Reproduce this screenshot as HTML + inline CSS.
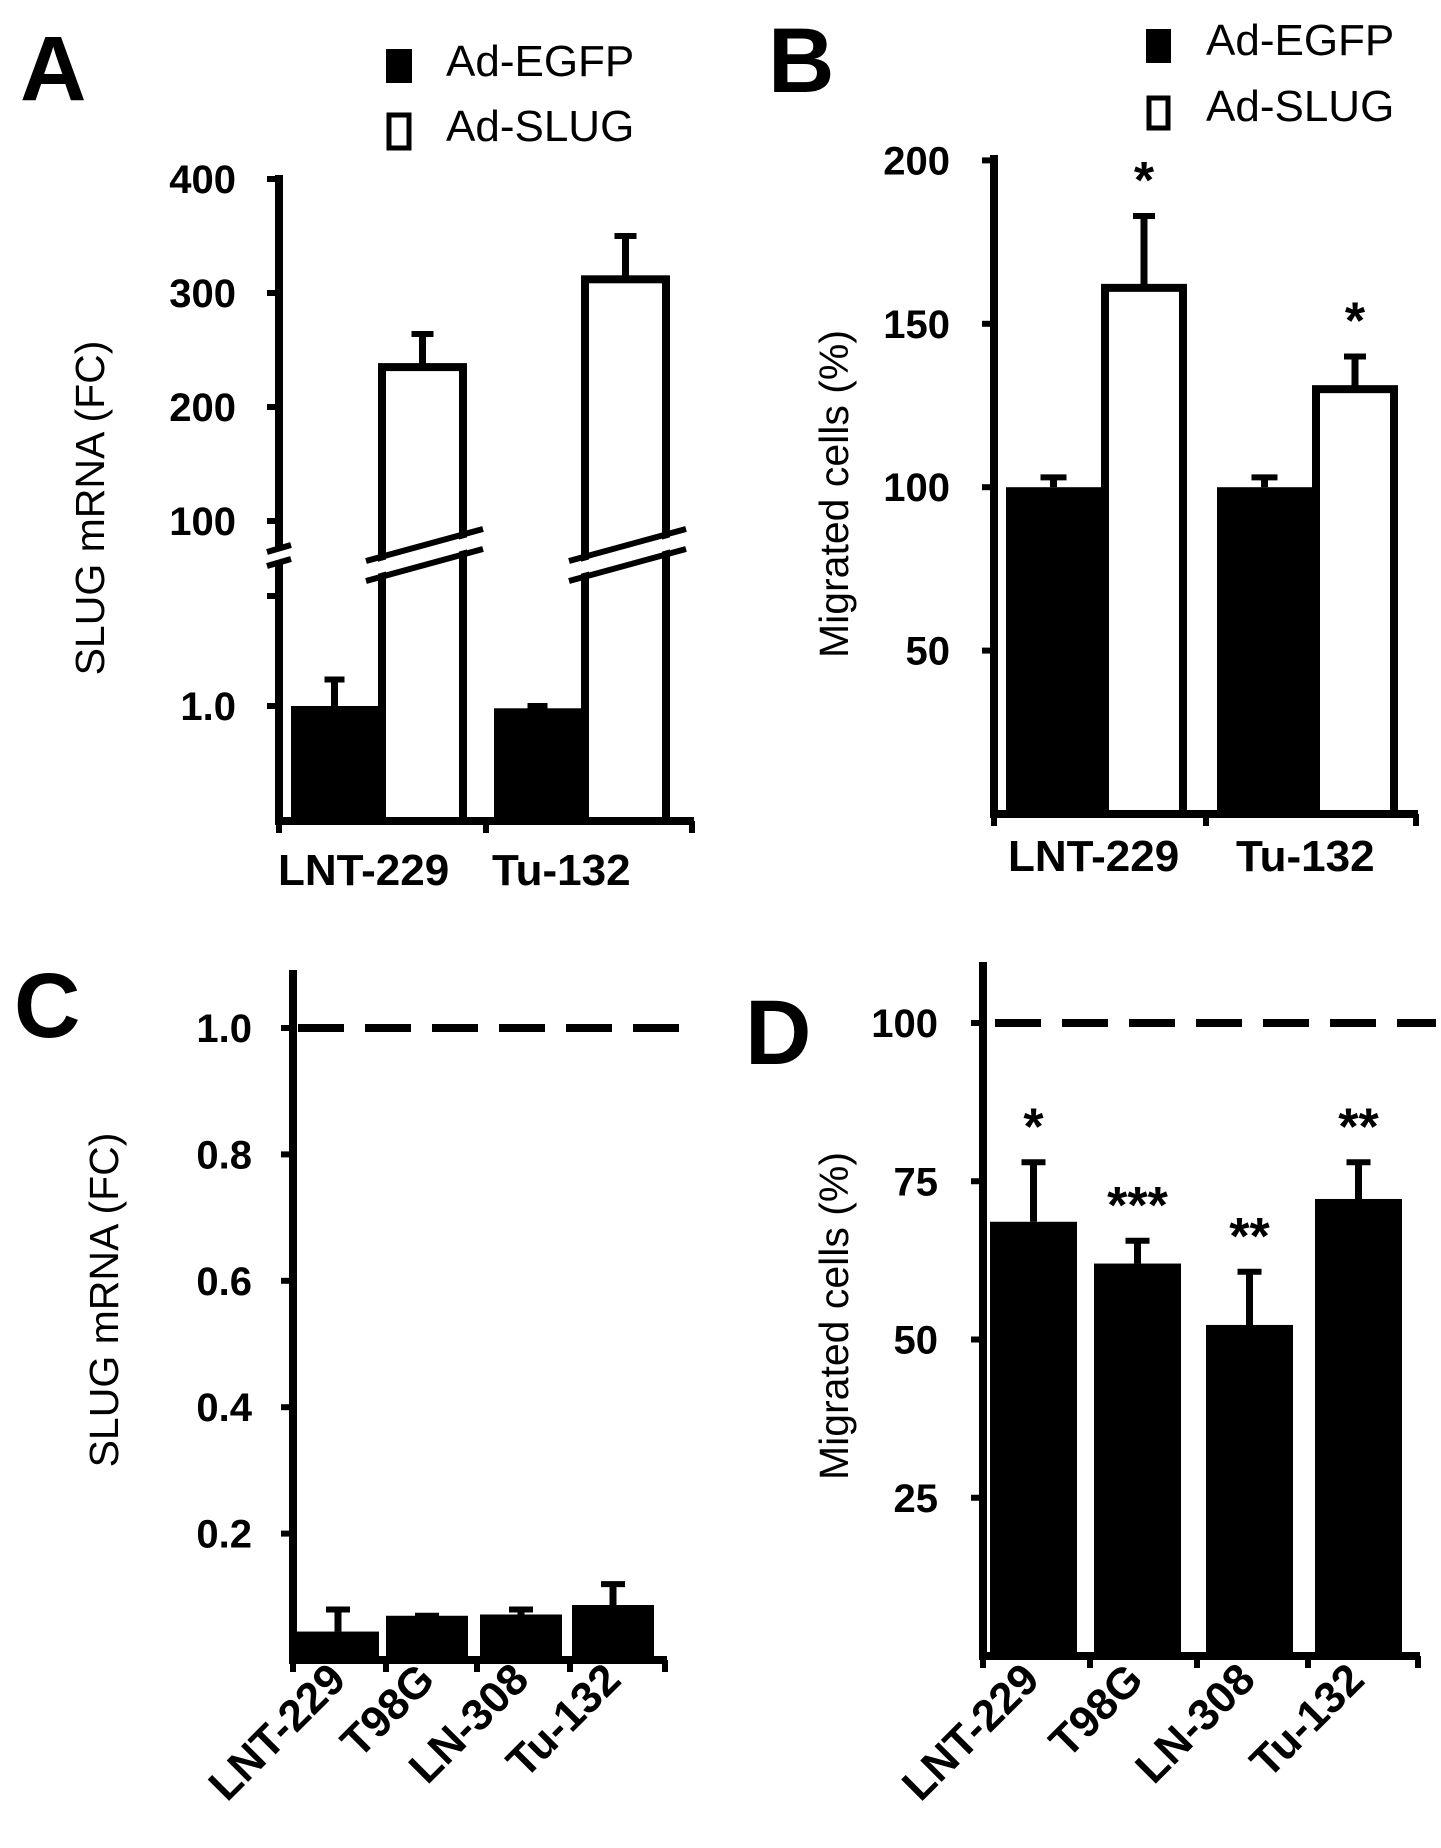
<!DOCTYPE html>
<html><head><meta charset="utf-8"><style>
html,body{margin:0;padding:0;background:#fff;}
svg{display:block;font-family:"Liberation Sans",Arial,sans-serif;}
.tk{font-weight:bold;font-size:40px;}
.xl{font-weight:bold;font-size:44px;}
.tt{font-size:41px;}
.lg{font-size:44px;}
.pl{font-weight:bold;font-size:92px;}
.st{font-weight:bold;font-size:52px;}
</style></head><body>
<svg id="fig" width="1441" height="1848" viewBox="0 0 1441 1848" xmlns="http://www.w3.org/2000/svg"></svg>
<script>
// Panel A data
const aCategories = ["LNT-229", "Tu-132"];
const aEgfp = [1.0, 0.98];
const aEgfpErr = [1.23, 1.0];
const aSlug = [235, 312];
const aSlugErr = [264, 350];
const aTicksUpper = [100, 200, 300, 400];
const aTicksLower = [1.0];
// Panel B data
const bCategories = ["LNT-229", "Tu-132"];
const bEgfp = [100, 100];
const bEgfpErr = [103, 103];
const bSlug = [161, 130];
const bSlugErr = [183, 140];
const bStars = ["*", "*"];
const bTicks = [50, 100, 150, 200];
// Panel C data
const cCategories = ["LNT-229", "T98G", "LN-308", "Tu-132"];
const cValues = [0.045, 0.07, 0.072, 0.087];
const cErr = [0.08, 0.07, 0.08, 0.12];
const cTicks = [0.2, 0.4, 0.6, 0.8, 1.0];
const cRef = 1.0;
// Panel D data
const dCategories = ["LNT-229", "T98G", "LN-308", "Tu-132"];
const dValues = [68.6, 62, 52.3, 72.2];
const dErr = [78, 65.6, 60.7, 78];
const dStars = ["*", "***", "**", "**"];
const dTicks = [25, 50, 75, 100];
const dRef = 100;

const svg = document.getElementById('fig');
const NS = 'http://www.w3.org/2000/svg';
function mk(tag, attrs, parent){const e=document.createElementNS(NS,tag);for(const k in attrs)e.setAttribute(k,attrs[k]);(parent||svg).appendChild(e);return e;}
function txt(s, attrs, parent){const e=mk('text',attrs,parent);e.textContent=s;return e;}
function line(x1,y1,x2,y2,w,parent){return mk('line',{x1,y1,x2,y2,stroke:'#000','stroke-width':w},parent);}

// ---------- Panel A ----------
(function(){
  const g=mk('g',{});
  
  
  const ax=279, bottom=821, right=694;
  const yUp=v=>521-(v-100)*1.14;
  const yLo=v=>bottom-v*115;
  const yA=v=>v>=50?yUp(v):yLo(v);
  const l=txt('A',{x:20,y:100,class:'pl'},g);
  
  
  const lg=mk('g',{},g);
  
  
  mk('rect',{x:386,y:49,width:26,height:34,fill:'#000'},lg);
  txt('Ad-EGFP',{x:446,y:76,class:'lg'},lg);
  mk('rect',{x:389,y:115,width:20,height:33,fill:'#fff',stroke:'#000','stroke-width':5},lg);
  txt('Ad-SLUG',{x:446,y:141,class:'lg'},lg);
  const t=txt('SLUG mRNA (FC)',{x:0,y:0,class:'tt','text-anchor':'middle',transform:'translate(104,508) rotate(-90)'},g);
  
  
  const bw=87, ww=89, gx=[291,494];
  aCategories.forEach((c,i)=>{
    const x0=gx[i];
    const yb=yA(aEgfp[i]);
    const b=mk('rect',{x:x0,y:yb,width:bw,height:bottom-yb,fill:'#000'},g);
    
    
    const ye=yA(aEgfpErr[i]);
    line(x0+bw/2,yb,x0+bw/2,ye,7,g);line(x0+bw/2-10,ye,x0+bw/2+10,ye,6,g);
    const xs=x0+bw+4, ys=yA(aSlug[i]);
    const w=mk('rect',{x:xs,y:ys,width:ww-8,height:bottom-ys,fill:'#fff',stroke:'#000','stroke-width':8},g);
    
    
    const yse=yA(aSlugErr[i]);
    const cx=xs+(ww-8)/2;
    line(cx,ys,cx,yse,7,g);line(cx-11,yse,cx+11,yse,6,g);
    const bx1=xs-16,bx2=xs+ww+12;
    mk('polygon',{points:`${bx1},${565} ${bx2},${533} ${bx2},${545} ${bx1},${577}`,fill:'#fff'},g);
    line(bx1,561,bx2,529,6,g);line(bx1,581,bx2,549,6,g);
    const xl=txt(c,{x:i==0?278:492,y:885,class:'xl'},g);
    
    
  });
  line(ax,175,ax,548,8,g);line(ax,563,ax,825,8,g);
  line(ax-12,552,ax+12,545,6,g);line(ax-12,566,ax+12,559,6,g);
  line(ax-4,bottom,right,bottom,8,g);
  [ax,486,right-2].forEach(x=>line(x,bottom,x,bottom+12,6,g));
  aTicksUpper.forEach(v=>{line(ax-12,yUp(v),ax,yUp(v),6,g);txt(String(v),{x:236,y:yUp(v)+14,class:'tk','text-anchor':'end'},g);});
  line(ax-12,596,ax,596,6,g);
  aTicksLower.forEach(v=>{line(ax-12,yLo(v),ax,yLo(v),6,g);txt(v.toFixed(1),{x:236,y:yLo(v)+14,class:'tk','text-anchor':'end'},g);});
})();

// ---------- Panel B ----------
(function(){
  const g=mk('g',{});
  
  
  const ax=994, bottom=814, right=1418;
  const y=v=>bottom-v*3.268;
  const l=txt('B',{x:768,y:92,class:'pl'},g);
  
  
  const lg=mk('g',{},g);
  
  
  mk('rect',{x:1146,y:29,width:25,height:34,fill:'#000'},lg);
  txt('Ad-EGFP',{x:1206,y:55,class:'lg'},lg);
  mk('rect',{x:1149,y:98,width:19,height:30,fill:'#fff',stroke:'#000','stroke-width':5},lg);
  txt('Ad-SLUG',{x:1206,y:121,class:'lg'},lg);
  const t=txt('Migrated cells (%)',{x:0,y:0,class:'tt','text-anchor':'middle',transform:'translate(848,494) rotate(-90)'},g);
  
  
  const gx=[1006,1217], bw=95, ww=86;
  bCategories.forEach((c,i)=>{
    const x0=gx[i], yb=y(bEgfp[i]);
    const b=mk('rect',{x:x0,y:yb,width:bw,height:bottom-yb,fill:'#000'},g);
    
    
    const ye=y(bEgfpErr[i]);
    line(x0+bw/2,yb,x0+bw/2,ye,7,g);line(x0+bw/2-13,ye,x0+bw/2+13,ye,6,g);
    const xs=x0+bw+4, ys=y(bSlug[i]);
    const w=mk('rect',{x:xs,y:ys,width:ww-8,height:bottom-ys,fill:'#fff',stroke:'#000','stroke-width':8},g);
    
    
    const yse=y(bSlugErr[i]);
    const cx=xs+(ww-8)/2;
    line(cx,ys,cx,yse,7,g);line(cx-11,yse,cx+11,yse,6,g);
    const s=txt(bStars[i],{x:cx,y:yse-18,class:'st','text-anchor':'middle'},g);
    
    
    const xl=txt(c,{x:i==0?1008:1236,y:871,class:'xl'},g);
    
    
  });
  line(ax,155,ax,818,8,g);
  line(ax-4,bottom,right,bottom,8,g);
  [ax,1206,right-2].forEach(x=>line(x,bottom,x,bottom+12,6,g));
  bTicks.forEach(v=>{line(ax-12,y(v),ax,y(v),6,g);txt(String(v),{x:950,y:y(v)+14,class:'tk','text-anchor':'end'},g);});
})();

// ---------- Panel C ----------
(function(){
  const g=mk('g',{});
  
  
  const ax=293, bottom=1660, right=667;
  const y=v=>bottom-v*632;
  const l=txt('C',{x:14,y:1037,class:'pl'},g);
  
  
  const t=txt('SLUG mRNA (FC)',{x:0,y:0,class:'tt','text-anchor':'middle',transform:'translate(118,1300) rotate(-90)'},g);
  
  
  const ref=mk('line',{x1:298,y1:y(cRef),x2:686,y2:y(cRef),stroke:'#000','stroke-width':8,'stroke-dasharray':'46 21'},g);
  
  
  const gx=[297,386,480,572], bw=82;
  cCategories.forEach((c,i)=>{
    const x0=gx[i], yb=y(cValues[i]);
    const b=mk('rect',{x:x0,y:yb,width:bw,height:bottom-yb,fill:'#000'},g);
    
    
    const ye=y(cErr[i]);
    line(x0+bw/2,yb,x0+bw/2,ye,7,g);line(x0+bw/2-12,ye,x0+bw/2+12,ye,6,g);
    const xl=txt(c,{x:0,y:0,class:'xl','text-anchor':'end',transform:`translate(${x0+bw/2+10},${1682}) rotate(-45)`},g);
    
    
  });
  line(ax,970,ax,1664,8,g);
  line(ax-4,bottom,right,bottom,8,g);
  [ax,386,477,570,right-2].forEach(x=>line(x,bottom,x,bottom+12,6,g));
  cTicks.forEach(v=>{line(ax-12,y(v),ax,y(v),6,g);txt(v.toFixed(1),{x:252,y:y(v)+14,class:'tk','text-anchor':'end'},g);});
})();

// ---------- Panel D ----------
(function(){
  const g=mk('g',{});
  
  
  const ax=983, bottom=1656, right=1420;
  const y=v=>bottom-v*6.33;
  const l=txt('D',{x:745,y:1064,class:'pl'},g);
  
  
  const t=txt('Migrated cells (%)',{x:0,y:0,class:'tt','text-anchor':'middle',transform:'translate(848,1316) rotate(-90)'},g);
  
  
  const ref=mk('line',{x1:995,y1:y(dRef),x2:1436,y2:y(dRef),stroke:'#000','stroke-width':8,'stroke-dasharray':'46 21'},g);
  
  
  const gx=[990,1094,1206,1315], bw=87;
  dCategories.forEach((c,i)=>{
    const x0=gx[i], yb=y(dValues[i]);
    const b=mk('rect',{x:x0,y:yb,width:bw,height:bottom-yb,fill:'#000'},g);
    
    
    const ye=y(dErr[i]);
    line(x0+bw/2,yb,x0+bw/2,ye,7,g);line(x0+bw/2-12,ye,x0+bw/2+12,ye,6,g);
    const s=txt(dStars[i],{x:x0+bw/2,y:ye-18,class:'st','text-anchor':'middle'},g);
    
    
    const xl=txt(c,{x:0,y:0,class:'xl','text-anchor':'end',transform:`translate(${x0+bw/2+8},${1682}) rotate(-45)`},g);
    
    
  });
  line(ax,962,ax,1660,8,g);
  line(ax-4,bottom,right,bottom,8,g);
  [ax,1090,1197,1308,right-2].forEach(x=>line(x,bottom,x,bottom+12,6,g));
  dTicks.forEach(v=>{line(ax-12,y(v),ax,y(v),6,g);txt(String(v),{x:938,y:y(v)+14,class:'tk','text-anchor':'end'},g);});
})();
</script>
</body></html>
